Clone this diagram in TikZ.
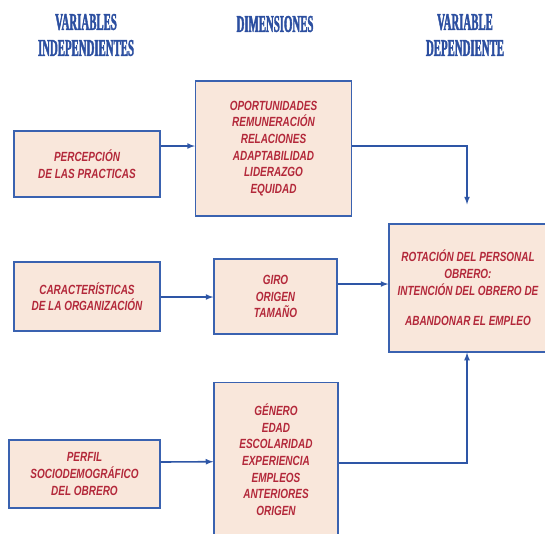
\documentclass[tikz,border=0pt]{standalone}
\usepackage{fontspec}
\setmainfont{Liberation Sans}
\newfontfamily\boxfont[FakeStretch=0.75]{Liberation Sans}
\newfontfamily\headfont[FakeStretch=0.45,FakeBold=1.6]{Liberation Serif}
\definecolor{cajafondo}{HTML}{F9E7DB}
\definecolor{cajaborde}{HTML}{3A62B0}
\definecolor{flechaazul}{HTML}{2E56A6}
\definecolor{textorojo}{HTML}{B3283A}
\definecolor{tituloazul}{HTML}{2C4FA0}

\begin{document}
\begin{tikzpicture}[x=1pt,y=-1pt]

\tikzstyle{caja}=[draw=cajaborde,fill=cajafondo,line width=1.3pt,inner sep=0pt,align=center,text=textorojo,font=\boxfont\bfseries\itshape\fontsize{13.3}{16.6}\selectfont]
\tikzstyle{titulo}=[align=center,text=tituloazul,font=\headfont\bfseries\fontsize{24}{26}\selectfont]
\tikzstyle{flecha}=[draw=flechaazul,line width=1.6pt,->,>=latex]

\clip (0,0) rectangle (545,533);

% encabezados
\node[titulo] (a) at (86,35) {VARIABLES\\INDEPENDIENTES};
\node[titulo] (b) at (275,24) {DIMENSIONES};
\node[titulo] (c) at (465,35) {VARIABLE\\DEPENDIENTE};

% cajas
\node[caja, minimum width=146pt, minimum height=66pt] (1) at (87,164) {PERCEPCIÓN\\DE LAS PRACTICAS};
\node[caja, minimum width=156pt, minimum height=135pt] (2) at (273.5,148.5) {OPORTUNIDADES\\REMUNERACIÓN\\RELACIONES\\ADAPTABILIDAD\\LIDERAZGO\\EQUIDAD};
\node[caja, minimum width=146pt, minimum height=69pt] (3) at (87,296.5) {CARACTERÍSTICAS\\DE LA ORGANIZACIÓN};
\node[caja, minimum width=123pt, minimum height=75pt] (4) at (275.5,296.5) {GIRO\\ORIGEN\\TAMAÑO};
\node[caja, minimum width=151pt, minimum height=68pt] (5) at (84.5,474) {PERFIL\\SOCIODEMOGRÁFICO\\DEL OBRERO};
\node[caja, minimum width=124pt, minimum height=155pt] (6) at (276,459.7) {GÉNERO\\EDAD\\ESCOLARIDAD\\EXPERIENCIA\\EMPLEOS\\ANTERIORES\\ORIGEN};
\node[caja, minimum width=158pt, minimum height=128pt] (7) at (468,288) {ROTACIÓN DEL PERSONAL\\OBRERO:\\INTENCIÓN DEL OBRERO DE\\[14pt]ABANDONAR EL EMPLEO};

% flechas
\draw[flecha] ([yshift=18pt]1.east) -- ([yshift=2.5pt]2.west);
\draw[flecha] ([yshift=2.5pt]2.east) -| ([xshift=-1pt,yshift=19pt]7.north);
\draw[flecha] ([yshift=-0.5pt]3.east) -- ([yshift=-0.5pt]4.west);
\draw[flecha] ([yshift=12.5pt]4.east) -- ([yshift=4pt]7.west);
\draw[flecha] ([yshift=12pt]5.east) -- ([yshift=-2pt]6.west);
\draw[flecha] ([yshift=-3pt]6.east) -| ([xshift=-1pt]7.south);

\end{tikzpicture}
\end{document}
